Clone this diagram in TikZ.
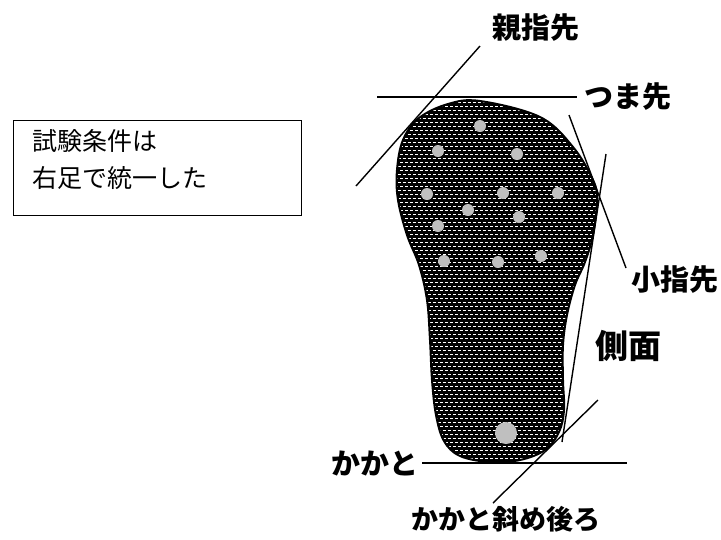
\documentclass[tikz,border=0pt]{standalone}
\usepackage{fontspec}
\newfontfamily\jpfont{Noto Sans CJK JP}
\usetikzlibrary{positioning}
\tikzset{
    guide/.style={draw, line width=1.4pt},
    tag/.style={
        font=\jpfont\bfseries\fontsize{29}{32}\selectfont,
        inner sep=0pt
    },
    boxtext/.style={
        font=\jpfont\fontsize{25}{30}\selectfont,
        anchor=west, inner sep=0pt
    },
    spot/.style={fill=black!25, draw=none},
    weave/.style={white, line width=0.9pt, dash pattern=on 3pt off 2pt},
    infobox/.style={
        draw, line width=1.3pt,
        minimum width=288pt,
        minimum height=95pt,
        anchor=north west
    }
}
% outline of the sole, in pixel coordinates
\def\soleline{plot[smooth cycle, tension=0.6] coordinates {
    (480,101) (540,117) (573,147) (593,180) (597,200) (593,235)
    (585,262) (575,285) (567,315) (563,345) (563,380) (564,410)
    (559,432) (545,450) (520,460) (490,462) (460,456) (444,441)
    (436,415) (432,380) (430,340) (427,300) (419,265) (407,235)
    (398,200) (397,170) (403,140) (419,118) (448,104)}}

\begin{document}
\begin{tikzpicture}[x=1pt, y=-1pt]
    \useasboundingbox (0,0) rectangle (721,539);

    % condition box
    \node[infobox] (cond) at (13,120) {};
    \node[boxtext] (line1) at (32,141) {試験条件は};
    \node[boxtext] (line2) at (32,178) {右足で統一した};

    % sole with a dark woven texture
    \fill[black] \soleline;
    \begin{scope}
        \clip \soleline;
        \foreach \y in {98,106,...,466}
            \draw[weave] (390,\y) -- (600,\y);
        \foreach \y in {102,110,...,466}
            \draw[weave, dash phase=2.5pt] (390,\y) -- (600,\y);
    \end{scope}
    \draw[line width=2pt] \soleline;

    % sensor spots
    \foreach \p in {(480,126),(438,151),(517,154),(427,194),(503,193),
                    (558,193),(468,210),(519,217),(438,226),(444,261),
                    (498,262),(541,256)}
        \fill[spot] \p circle (6);
    \fill[spot] (506,433) circle (11);

    % tangent lines
    \coordinate (bigtoeA) at (356,186);
    \coordinate (bigtoeB) at (480,46);
    \coordinate (toeA) at (377,97);
    \coordinate (toeB) at (577,97);
    \coordinate (littleA) at (569,115);
    \coordinate (littleB) at (626,268);
    \coordinate (sideA) at (606,154);
    \coordinate (sideB) at (562,442);
    \coordinate (heelA) at (422,463);
    \coordinate (heelB) at (627,463);
    \coordinate (diagA) at (598,400);
    \coordinate (diagB) at (493,503);

    \draw[guide] (bigtoeA) -- (bigtoeB);
    \draw[guide] (toeA) -- (toeB);
    \draw[guide] (littleA) -- (littleB);
    \draw[guide] (sideA) -- (sideB);
    \draw[guide] (heelA) -- (heelB);
    \draw[guide] (diagA) -- (diagB);

    % labels
    \node[tag] (bigtoe) at (536,28) {親指先};
    \node[tag, right=7pt of toeB] (toe) {つま先};
    \node[tag] (little) at (675,280) {小指先};
    \node[tag, font=\jpfont\bfseries\fontsize{33}{36}\selectfont]
         (side) at (628,346) {側面};
    \node[tag, left=3pt of heelA] (heel) {かかと};
    \node[tag, font=\jpfont\bfseries\fontsize{27}{30}\selectfont]
         (diag) at (506,519) {かかと斜め後ろ};
\end{tikzpicture}
\end{document}
